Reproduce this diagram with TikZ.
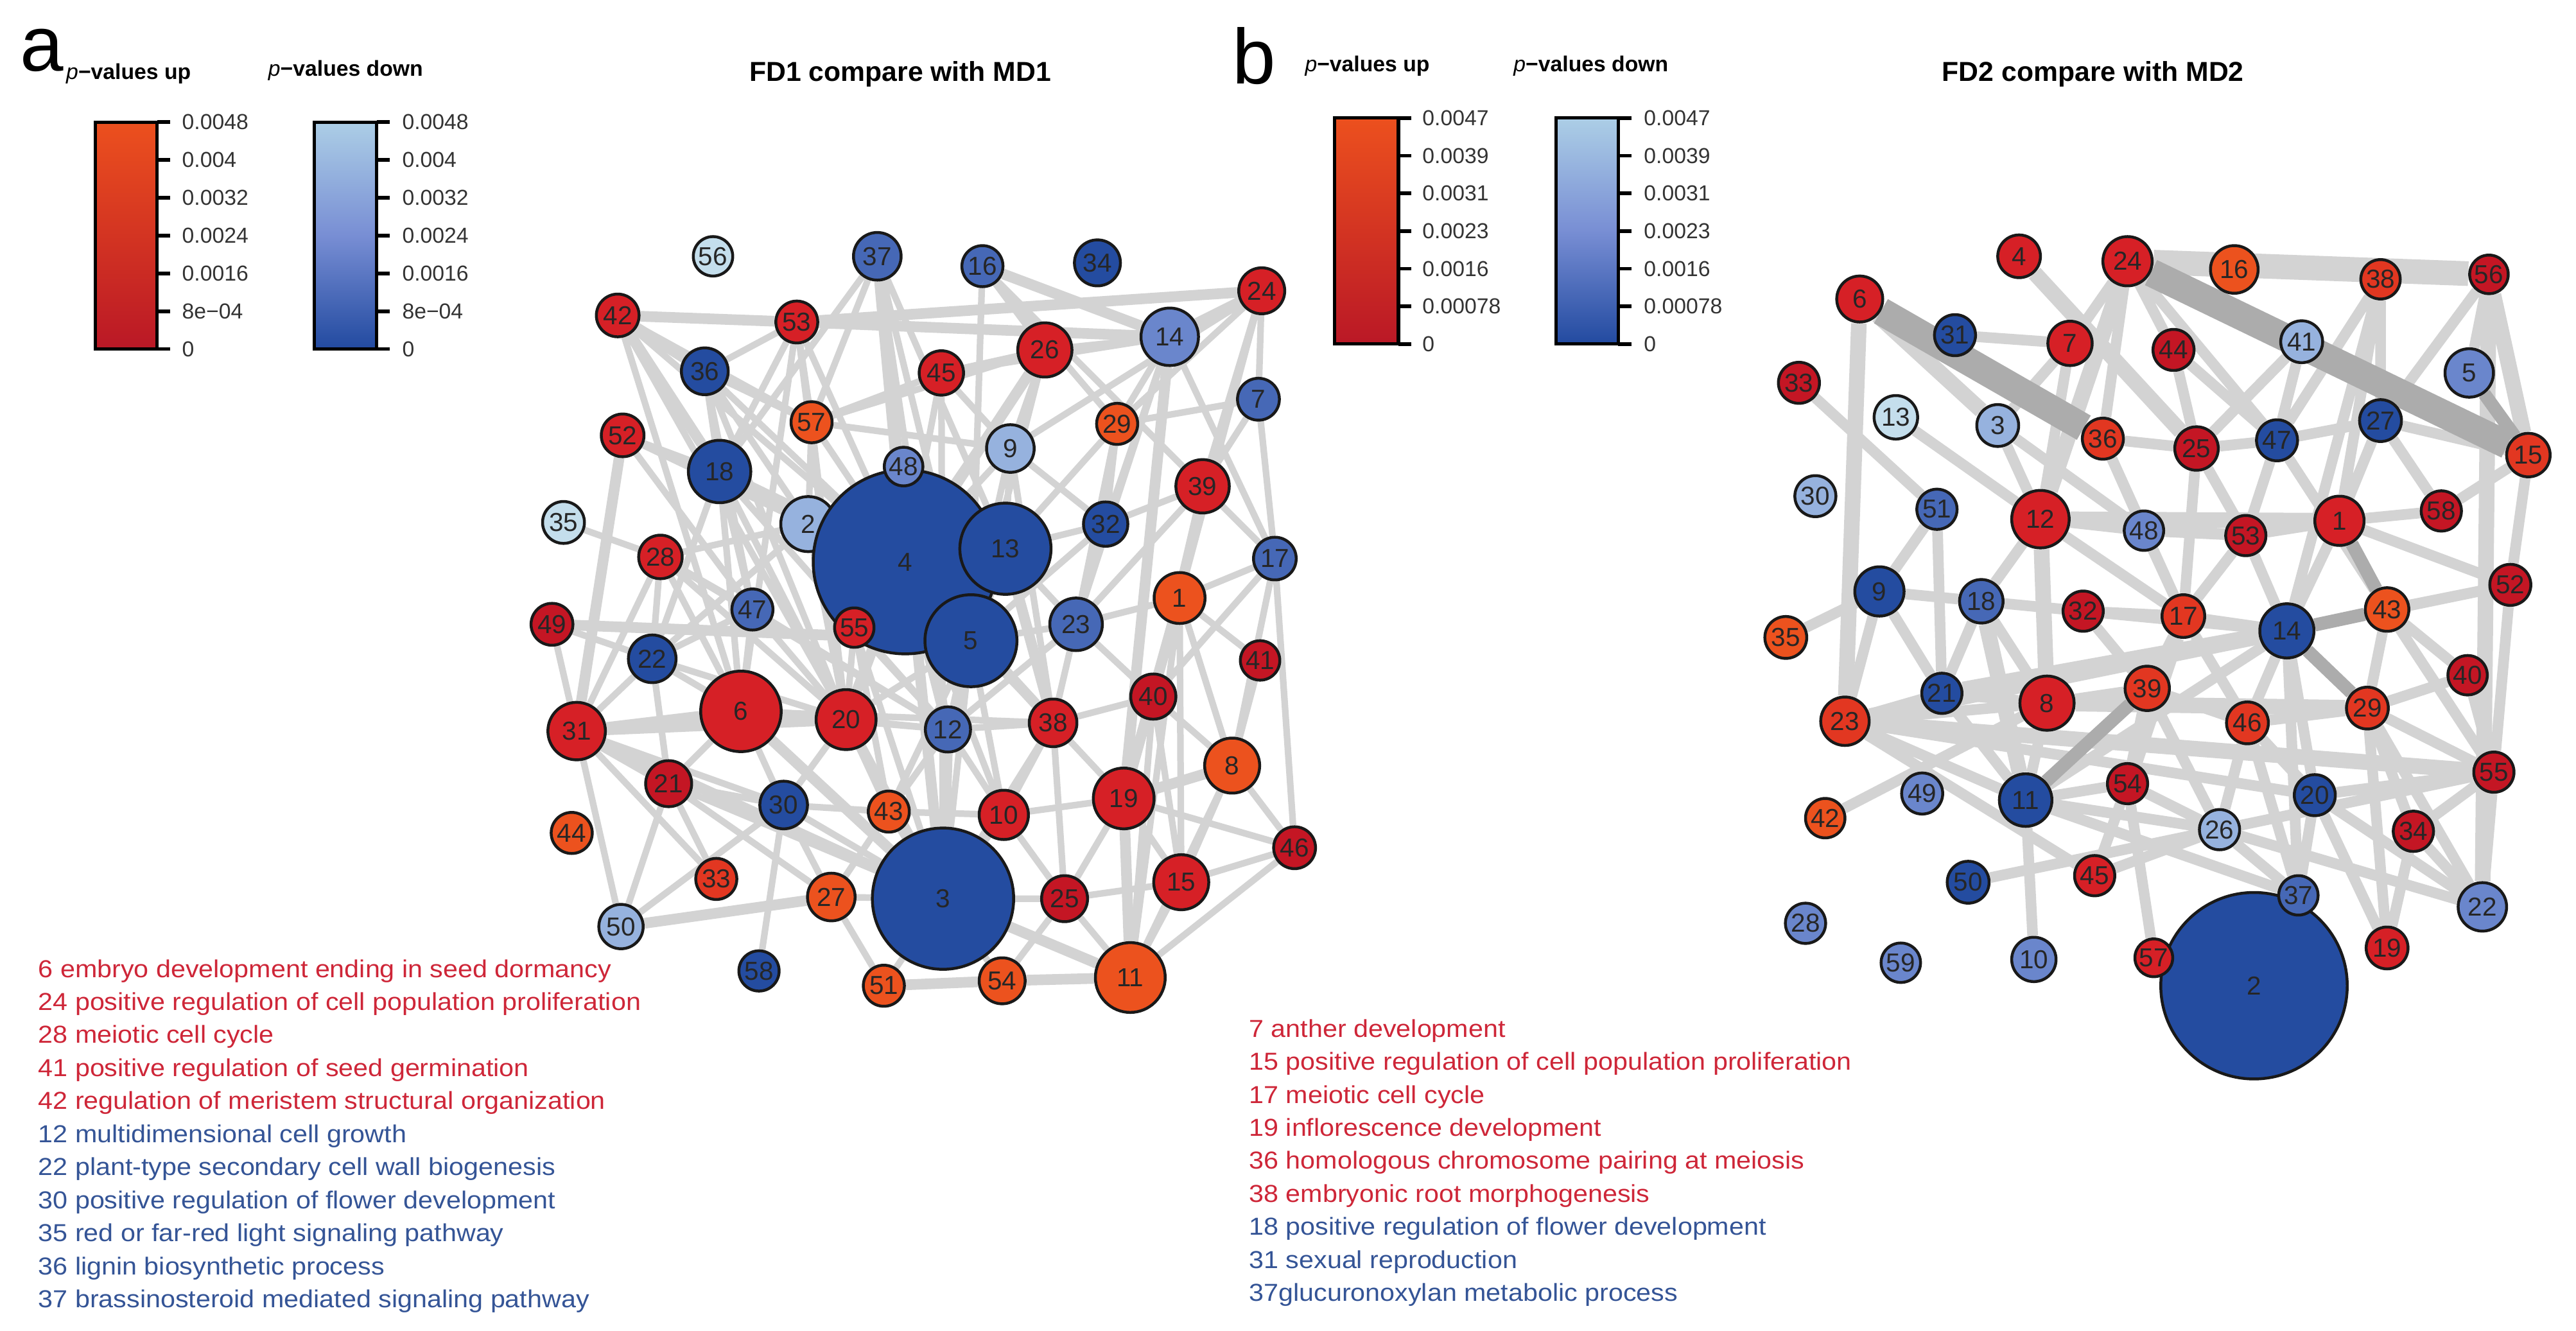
\documentclass[tikz,border=0pt]{standalone}
\usepackage{fontspec}
\setmainfont{Liberation Sans}
\newfontfamily\widesans[FakeStretch=1.08]{Liberation Sans}
\pgfdeclarelayer{edges}
\pgfsetlayers{edges,main}
\usepackage{xcolor}
\definecolor{rA}{RGB}{196,22,36}
\definecolor{rB}{RGB}{214,32,38}
\definecolor{rC}{RGB}{226,55,33}
\definecolor{rD}{RGB}{236,82,30}
\definecolor{bA}{RGB}{36,76,160}
\definecolor{bB}{RGB}{70,104,182}
\definecolor{bC}{RGB}{106,134,204}
\definecolor{bD}{RGB}{150,178,222}
\definecolor{bE}{RGB}{196,222,236}
\definecolor{linkgray}{RGB}{211,211,211}
\definecolor{bandgray}{RGB}{172,172,172}
\definecolor{txtred}{RGB}{206,38,56}
\definecolor{txtblue}{RGB}{52,84,150}
\tikzset{%
	term/.style={
		circle,
		draw=black!90,
		line width=0.35mm,
		inner sep=0pt,
		font=\fontsize{9}{9}\selectfont,
		text=black!85
	},
	link/.style={draw=linkgray, line width=0.8mm},
	linkw/.style={draw=linkgray, line width=1.3mm},
	linkx/.style={draw=linkgray, line width=1.9mm},
	linkband/.style={draw=linkgray, line width=3mm},
	darkband/.style={draw=bandgray, line width=3.4mm},
	darklink/.style={draw=bandgray, line width=1.6mm},
	bar/.style={draw=black, line width=0.4mm},
	tickmark/.style={line width=0.45mm},
	ticklabel/.style={anchor=west, inner sep=0pt, font=\fontsize{7.5}{9}\selectfont, text=black!80},
	keyline/.style={anchor=north west, inner sep=0pt, text height=2.9mm, text depth=0.98mm, font=\widesans\fontsize{8.5}{10}\selectfont},
	heading/.style={inner sep=0pt, font=\bfseries\fontsize{9.5}{11}\selectfont},
	pvlabel/.style={anchor=west, inner sep=0pt, font=\fontsize{7.5}{9}\selectfont},
	panel/.style={anchor=base west, inner sep=0pt, font=\fontsize{27}{27}\selectfont}
}
\begin{document}
\begin{tikzpicture}[x=0.2mm, y=-0.2mm]
	\useasboundingbox (0,0) rectangle (1568,810);
	
	% panel letters and titles
	\node[panel] (pa) at (12,43) {a};
	\node[panel] (pb) at (750,51) {b};
	\node[heading] (titlea) at (548,45) {FD1 compare with MD1};
	\node[heading] (titleb) at (1274,45) {FD2 compare with MD2};
	
	% colour keys
	\node[pvlabel] (upa) at (40,45) {\textit{p}\textbf{−values up}};
	\node[pvlabel] (downa) at (163,43) {\textit{p}\textbf{−values down}};
	\node[pvlabel] (upb) at (794,40) {\textit{p}\textbf{−values up}};
	\node[pvlabel] (downb) at (921,40) {\textit{p}\textbf{−values down}};
	
	\shade[top color={rgb,255:red,236;green,80;blue,30}, bottom color={rgb,255:red,186;green,24;blue,38}] (58,74.3) rectangle (95.7,212.4);
	\draw[bar] (58,74.3) rectangle (95.7,212.4);
	\shade[top color={rgb,255:red,172;green,206;blue,230}, bottom color={rgb,255:red,34;green,74;blue,160}, middle color={rgb,255:red,120;green,142;blue,212}] (191.4,74.3) rectangle (229.3,212.4);
	\draw[bar] (191.4,74.3) rectangle (229.3,212.4);
	\foreach \v [count=\k from 0] in {0.0048,0.004,0.0032,0.0024,0.0016,8e−04,0} {
		\draw[tickmark] (95.7,74.3+23.02*\k) -- ++(8,0);
		\node[ticklabel] (kra\k) at (110.5,74.3+23.02*\k) {\v};
		\draw[tickmark] (229.3,74.3+23.02*\k) -- ++(8,0);
		\node[ticklabel] (kba\k) at (244.5,74.3+23.02*\k) {\v};
	}
	
	\shade[top color={rgb,255:red,236;green,80;blue,30}, bottom color={rgb,255:red,186;green,24;blue,38}] (812.4,71.8) rectangle (851.2,209.4);
	\draw[bar] (812.4,71.8) rectangle (851.2,209.4);
	\shade[top color={rgb,255:red,172;green,206;blue,230}, bottom color={rgb,255:red,34;green,74;blue,160}, middle color={rgb,255:red,120;green,142;blue,212}] (947,71.8) rectangle (985,209.4);
	\draw[bar] (947,71.8) rectangle (985,209.4);
	\foreach \v [count=\k from 0] in {0.0047,0.0039,0.0031,0.0023,0.0016,0.00078,0} {
		\draw[tickmark] (851.2,71.8+22.93*\k) -- ++(8,0);
		\node[ticklabel] (krb\k) at (865.5,71.8+22.93*\k) {\v};
		\draw[tickmark] (985,71.8+22.93*\k) -- ++(8,0);
		\node[ticklabel] (kbb\k) at (1000.3,71.8+22.93*\k) {\v};
	}
	
	% panel a terms
	\node[term, fill=bE, minimum size=4.8mm] (a56) at (434,156) {56};
	\node[term, fill=bB, minimum size=5.8mm] (a37) at (534,156) {37};
	\node[term, fill=bB, minimum size=5.0mm] (a16) at (598,162) {16};
	\node[term, fill=bA, minimum size=5.6mm] (a34) at (668,160) {34};
	\node[term, fill=rB, minimum size=5.6mm] (a24) at (768,177) {24};
	\node[term, fill=rB, minimum size=5.2mm] (a42) at (376,192) {42};
	\node[term, fill=rB, minimum size=5.1mm] (a53) at (485,196) {53};
	\node[term, fill=bC, minimum size=7.0mm] (a14) at (712,205) {14};
	\node[term, fill=rB, minimum size=6.6mm] (a26) at (636,213) {26};
	\node[term, fill=rB, minimum size=5.4mm] (a45) at (573,227) {45};
	\node[term, fill=bA, minimum size=5.7mm] (a36) at (429,226) {36};
	\node[term, fill=bB, minimum size=5.1mm] (a7) at (766,243) {7};
	\node[term, fill=rD, minimum size=5.0mm] (a57) at (494,257) {57};
	\node[term, fill=rD, minimum size=5.0mm] (a29) at (680,258) {29};
	\node[term, fill=rB, minimum size=5.2mm] (a52) at (379,265) {52};
	\node[term, fill=bD, minimum size=5.8mm] (a9) at (615,273) {9};
	\node[term, fill=bA, minimum size=7.6mm] (a18) at (438,287) {18};
	\node[term, fill=rB, minimum size=6.5mm] (a39) at (732,296) {39};
	\node[term, fill=bE, minimum size=5.1mm] (a35) at (343,318) {35};
	\node[term, fill=bD, minimum size=6.7mm] (a2) at (492,319) {2};
	\node[term, fill=bA, minimum size=22.4mm] (a4) at (551,342) {4};
	\node[term, fill=bA, minimum size=11.2mm] (a5) at (591,390) {5};
	\node[term, fill=bA, minimum size=11.1mm] (a13) at (612,334) {13};
	\node[term, fill=bC, minimum size=4.7mm] (a48) at (550,284) {48};
	\node[term, fill=rB, minimum size=4.8mm] (a55) at (520,382) {55};
	\node[term, fill=bA, minimum size=5.4mm] (a32) at (673,319) {32};
	\node[term, fill=bB, minimum size=5.2mm] (a17) at (776,340) {17};
	\node[term, fill=rB, minimum size=5.3mm] (a28) at (402,339) {28};
	\node[term, fill=bB, minimum size=5.0mm] (a47) at (458,371) {47};
	\node[term, fill=rA, minimum size=5.1mm] (a49) at (336,380) {49};
	\node[term, fill=bB, minimum size=6.4mm] (a23) at (655,380) {23};
	\node[term, fill=rD, minimum size=6.2mm] (a1) at (718,364) {1};
	\node[term, fill=bA, minimum size=5.8mm] (a22) at (397,401) {22};
	\node[term, fill=rA, minimum size=4.8mm] (a41) at (767,402) {41};
	\node[term, fill=rB, minimum size=9.8mm] (a6) at (451,433) {6};
	\node[term, fill=rB, minimum size=7.3mm] (a20) at (515,438) {20};
	\node[term, fill=bB, minimum size=5.5mm] (a12) at (577,444) {12};
	\node[term, fill=rB, minimum size=5.8mm] (a38) at (641,440) {38};
	\node[term, fill=rA, minimum size=5.5mm] (a40) at (702,424) {40};
	\node[term, fill=rB, minimum size=7.0mm] (a31) at (351,445) {31};
	\node[term, fill=rD, minimum size=6.7mm] (a8) at (750,466) {8};
	\node[term, fill=rA, minimum size=5.6mm] (a21) at (407,477) {21};
	\node[term, fill=bA, minimum size=5.8mm] (a30) at (477,490) {30};
	\node[term, fill=rD, minimum size=5.0mm] (a43) at (541,494) {43};
	\node[term, fill=rB, minimum size=6.0mm] (a10) at (611,496) {10};
	\node[term, fill=rB, minimum size=7.4mm] (a19) at (684,486) {19};
	\node[term, fill=rD, minimum size=5.0mm] (a44) at (348,507) {44};
	\node[term, fill=rA, minimum size=5.1mm] (a46) at (788,516) {46};
	\node[term, fill=bA, minimum size=17.2mm] (a3) at (574,547) {3};
	\node[term, fill=rC, minimum size=5.0mm] (a33) at (436,535) {33};
	\node[term, fill=rD, minimum size=5.8mm] (a27) at (506,546) {27};
	\node[term, fill=rA, minimum size=5.6mm] (a25) at (648,547) {25};
	\node[term, fill=rB, minimum size=6.7mm] (a15) at (719,537) {15};
	\node[term, fill=bD, minimum size=5.4mm] (a50) at (378,564) {50};
	\node[term, fill=bA, minimum size=4.9mm] (a58) at (462,591) {58};
	\node[term, fill=rD, minimum size=5.0mm] (a51) at (538,600) {51};
	\node[term, fill=rD, minimum size=5.6mm] (a54) at (610,597) {54};
	\node[term, fill=rD, minimum size=8.5mm] (a11) at (688,595) {11};
	
	% panel b terms
	\node[term, fill=rB, minimum size=5.2mm] (b4) at (1229,156) {4};
	\node[term, fill=rB, minimum size=6.0mm] (b24) at (1295,159) {24};
	\node[term, fill=rD, minimum size=5.8mm] (b16) at (1360,164) {16};
	\node[term, fill=rC, minimum size=4.8mm] (b38) at (1449,170) {38};
	\node[term, fill=rA, minimum size=4.7mm] (b56) at (1515,167) {56};
	\node[term, fill=rB, minimum size=5.6mm] (b6) at (1132,182) {6};
	\node[term, fill=bA, minimum size=5.0mm] (b31) at (1190,204) {31};
	\node[term, fill=rB, minimum size=5.4mm] (b7) at (1260,209) {7};
	\node[term, fill=rA, minimum size=5.0mm] (b44) at (1323,213) {44};
	\node[term, fill=bD, minimum size=5.1mm] (b41) at (1401,208) {41};
	\node[term, fill=bC, minimum size=5.9mm] (b5) at (1503,227) {5};
	\node[term, fill=rA, minimum size=5.0mm] (b33) at (1095,233) {33};
	\node[term, fill=bE, minimum size=5.3mm] (b13) at (1154,254) {13};
	\node[term, fill=bD, minimum size=5.1mm] (b3) at (1216,259) {3};
	\node[term, fill=bA, minimum size=5.1mm] (b27) at (1449,256) {27};
	\node[term, fill=rC, minimum size=5.0mm] (b36) at (1280,267) {36};
	\node[term, fill=rA, minimum size=5.3mm] (b25) at (1337,273) {25};
	\node[term, fill=bA, minimum size=5.0mm] (b47) at (1386,268) {47};
	\node[term, fill=rC, minimum size=5.3mm] (b15) at (1539,277) {15};
	\node[term, fill=bD, minimum size=5.0mm] (b30) at (1105,302) {30};
	\node[term, fill=bB, minimum size=4.9mm] (b51) at (1179,310) {51};
	\node[term, fill=rB, minimum size=7.0mm] (b12) at (1242,316) {12};
	\node[term, fill=bC, minimum size=4.8mm] (b48) at (1305,323) {48};
	\node[term, fill=rA, minimum size=4.9mm] (b53) at (1367,326) {53};
	\node[term, fill=rB, minimum size=6.0mm] (b1) at (1424,317) {1};
	\node[term, fill=rA, minimum size=4.9mm] (b58) at (1486,311) {58};
	\node[term, fill=rA, minimum size=5.0mm] (b52) at (1528,356) {52};
	\node[term, fill=bA, minimum size=6.0mm] (b9) at (1144,360) {9};
	\node[term, fill=bB, minimum size=5.3mm] (b18) at (1206,366) {18};
	\node[term, fill=rA, minimum size=4.9mm] (b32) at (1268,372) {32};
	\node[term, fill=rC, minimum size=5.2mm] (b17) at (1329,375) {17};
	\node[term, fill=bA, minimum size=6.6mm] (b14) at (1392,384) {14};
	\node[term, fill=rD, minimum size=5.3mm] (b43) at (1453,371) {43};
	\node[term, fill=rD, minimum size=5.1mm] (b35) at (1087,388) {35};
	\node[term, fill=rA, minimum size=4.8mm] (b40) at (1502,411) {40};
	\node[term, fill=bA, minimum size=4.9mm] (b21) at (1182,422) {21};
	\node[term, fill=rB, minimum size=6.6mm] (b8) at (1246,428) {8};
	\node[term, fill=rC, minimum size=5.4mm] (b39) at (1307,419) {39};
	\node[term, fill=rC, minimum size=5.9mm] (b23) at (1123,439) {23};
	\node[term, fill=rC, minimum size=5.1mm] (b46) at (1368,440) {46};
	\node[term, fill=rC, minimum size=5.1mm] (b29) at (1441,431) {29};
	\node[term, fill=rA, minimum size=4.9mm] (b55) at (1518,470) {55};
	\node[term, fill=bC, minimum size=5.0mm] (b49) at (1170,483) {49};
	\node[term, fill=bA, minimum size=6.4mm] (b11) at (1233,487) {11};
	\node[term, fill=rA, minimum size=4.9mm] (b54) at (1295,477) {54};
	\node[term, fill=bA, minimum size=5.0mm] (b20) at (1409,484) {20};
	\node[term, fill=bD, minimum size=4.9mm] (b26) at (1351,505) {26};
	\node[term, fill=rA, minimum size=4.9mm] (b34) at (1469,506) {34};
	\node[term, fill=rD, minimum size=4.8mm] (b42) at (1111,498) {42};
	\node[term, fill=bA, minimum size=5.1mm] (b50) at (1198,537) {50};
	\node[term, fill=rB, minimum size=4.9mm] (b45) at (1275,533) {45};
	\node[term, fill=bA, minimum size=22.7mm] (b2) at (1372,600) {2};
	\node[term, fill=bB, minimum size=4.8mm] (b37) at (1399,545) {37};
	\node[term, fill=rB, minimum size=4.6mm] (b57) at (1311,583) {57};
	\node[term, fill=bC, minimum size=5.9mm] (b22) at (1511,552) {22};
	\node[term, fill=bC, minimum size=4.9mm] (b28) at (1099,562) {28};
	\node[term, fill=bC, minimum size=4.8mm] (b59) at (1157,586) {59};
	\node[term, fill=bC, minimum size=5.4mm] (b10) at (1238,584) {10};
	\node[term, fill=rB, minimum size=5.1mm] (b19) at (1453,577) {19};
	
	% term keys
	\node[keyline, text=txtred] (ka1) at (23,580) {6 embryo development ending in seed dormancy};
	\node[keyline, text=txtred] (ka2) at (ka1.south west) {24 positive regulation of cell population proliferation};
	\node[keyline, text=txtred] (ka3) at (ka2.south west) {28 meiotic cell cycle};
	\node[keyline, text=txtred] (ka4) at (ka3.south west) {41 positive regulation of seed germination};
	\node[keyline, text=txtred] (ka5) at (ka4.south west) {42 regulation of meristem structural organization};
	\node[keyline, text=txtblue] (ka6) at (ka5.south west) {12 multidimensional cell growth};
	\node[keyline, text=txtblue] (ka7) at (ka6.south west) {22 plant-type secondary cell wall biogenesis};
	\node[keyline, text=txtblue] (ka8) at (ka7.south west) {30 positive regulation of flower development};
	\node[keyline, text=txtblue] (ka9) at (ka8.south west) {35 red or far-red light signaling pathway};
	\node[keyline, text=txtblue] (ka10) at (ka9.south west) {36 lignin biosynthetic process};
	\node[keyline, text=txtblue] (ka11) at (ka10.south west) {37 brassinosteroid mediated signaling pathway};
	
	\node[keyline, text=txtred] (kb1) at (760,616.4) {7 anther development};
	\node[keyline, text=txtred] (kb2) at (kb1.south west) {15 positive regulation of cell population proliferation};
	\node[keyline, text=txtred] (kb3) at (kb2.south west) {17 meiotic cell cycle};
	\node[keyline, text=txtred] (kb4) at (kb3.south west) {19 inflorescence development};
	\node[keyline, text=txtred] (kb5) at (kb4.south west) {36 homologous chromosome pairing at meiosis};
	\node[keyline, text=txtred] (kb6) at (kb5.south west) {38 embryonic root morphogenesis};
	\node[keyline, text=txtblue] (kb7) at (kb6.south west) {18 positive regulation of flower development};
	\node[keyline, text=txtblue] (kb8) at (kb7.south west) {31 sexual reproduction};
	\node[keyline, text=txtblue] (kb9) at (kb8.south west) {37glucuronoxylan metabolic process};
	
	\begin{pgfonlayer}{edges}
		% panel a links
		\draw[linkw] (a42) -- (a53) (a53) -- (a24) (a53) -- (a14) (a16) -- (a14)
			(a37) -- (a4) (a6) -- (a31) (a50) -- (a27) (a19) -- (a11) (a51) -- (a54)
			(a54) -- (a11) (a42) -- (a36) (a31) -- (a3) (a14) -- (a19) (a42) -- (a18)
			(a37) -- (a3) (a31) -- (a20) (a24) -- (a14) (a26) -- (a4) (a18) -- (a4)
			(a52) -- (a31) (a49) -- (a5) (a31) -- (a21) (a3) -- (a11) (a8) -- (a19)
			(a1) -- (a19) (a6) -- (a3) (a20) -- (a3) (a6) -- (a20) (a12) -- (a3)
			(a4) -- (a20) (a4) -- (a12) (a4) -- (a38) (a13) -- (a38);
		\draw[link] (a42) -- (a57) (a42) -- (a4) (a42) -- (a6) (a42) -- (a20)
			(a53) -- (a36) (a53) -- (a57) (a53) -- (a4) (a53) -- (a18) (a53) -- (a20) (a53) -- (a6)
			(a37) -- (a57) (a37) -- (a18) (a37) -- (a13) (a37) -- (a12) (a37) -- (a5)
			(a16) -- (a26) (a16) -- (a29) (a16) -- (a5) (a16) -- (a39)
			(a24) -- (a29) (a24) -- (a39) (a24) -- (a1) (a24) -- (a9) (a24) -- (a7)
			(a14) -- (a26) (a14) -- (a45) (a14) -- (a29) (a14) -- (a32) (a14) -- (a17) (a14) -- (a23)
			(a26) -- (a45) (a26) -- (a9) (a26) -- (a12) (a26) -- (a57) (a26) -- (a55) (a26) -- (a5)
			(a45) -- (a4) (a45) -- (a9) (a45) -- (a57) (a45) -- (a3)
			(a36) -- (a18) (a36) -- (a57) (a36) -- (a4) (a36) -- (a2) (a36) -- (a47) (a36) -- (a20)
			(a7) -- (a17) (a7) -- (a39) (a7) -- (a29)
			(a57) -- (a4) (a57) -- (a9) (a57) -- (a2) (a57) -- (a20)
			(a29) -- (a23) (a29) -- (a32) (a29) -- (a13)
			(a52) -- (a18) (a52) -- (a2) (a52) -- (a47)
			(a9) -- (a4) (a9) -- (a13) (a9) -- (a32) (a9) -- (a12) (a9) -- (a38)
			(a18) -- (a2) (a18) -- (a47) (a18) -- (a22) (a18) -- (a6) (a18) -- (a20) (a18) -- (a12)
			(a39) -- (a32) (a39) -- (a1) (a39) -- (a40) (a39) -- (a23) (a39) -- (a17)
			(a35) -- (a28) (a2) -- (a28) (a2) -- (a22) (a2) -- (a20)
			(a32) -- (a13) (a32) -- (a23) (a32) -- (a5)
			(a17) -- (a1) (a17) -- (a46) (a17) -- (a8) (a17) -- (a40)
			(a28) -- (a22) (a28) -- (a31) (a28) -- (a6) (a28) -- (a20) (a28) -- (a47) (a28) -- (a12)
			(a47) -- (a22) (a47) -- (a6) (a47) -- (a20) (a47) -- (a12)
			(a49) -- (a31) (a49) -- (a22) (a55) -- (a20) (a55) -- (a12) (a55) -- (a43) (a55) -- (a3)
			(a5) -- (a12) (a5) -- (a20) (a5) -- (a38) (a5) -- (a10) (a5) -- (a3) (a5) -- (a23) (a5) -- (a43)
			(a13) -- (a23) (a13) -- (a12) (a4) -- (a10)
			(a23) -- (a1) (a23) -- (a38) (a23) -- (a40) (a23) -- (a12)
			(a1) -- (a40) (a1) -- (a41) (a1) -- (a8) (a1) -- (a11) (a1) -- (a15)
			(a22) -- (a31) (a22) -- (a6) (a22) -- (a21) (a22) -- (a20) (a41) -- (a8)
			(a6) -- (a21) (a6) -- (a30) (a6) -- (a12) (a6) -- (a38)
			(a20) -- (a12) (a20) -- (a30) (a20) -- (a43)
			(a12) -- (a38) (a12) -- (a10) (a12) -- (a43)
			(a38) -- (a10) (a38) -- (a19) (a38) -- (a3) (a38) -- (a40) (a38) -- (a25)
			(a40) -- (a19) (a40) -- (a8) (a40) -- (a15) (a40) -- (a11)
			(a31) -- (a30) (a31) -- (a50) (a31) -- (a33)
			(a8) -- (a46) (a8) -- (a15) (a8) -- (a11)
			(a21) -- (a30) (a21) -- (a50) (a21) -- (a33) (a21) -- (a3) (a21) -- (a27)
			(a30) -- (a58) (a30) -- (a27) (a30) -- (a43) (a30) -- (a3) (a30) -- (a50)
			(a43) -- (a3) (a43) -- (a10) (a43) -- (a27)
			(a10) -- (a3) (a10) -- (a25) (a10) -- (a19)
			(a19) -- (a15) (a19) -- (a25)
			(a46) -- (a11) (a46) -- (a15) (a46) -- (a19)
			(a3) -- (a27) (a3) -- (a51) (a3) -- (a54) (a3) -- (a25)
			(a27) -- (a51) (a25) -- (a11) (a25) -- (a54) (a25) -- (a15) (a15) -- (a11);
		
		% panel b links
		\draw[linkband] (b24) -- (b56);
		\draw[linkx] (b6) -- (b23) (b6) -- (b3) (b4) -- (b25) (b24) -- (b12) (b56) -- (b15)
			(b12) -- (b1) (b23) -- (b55) (b23) -- (b14) (b12) -- (b8) (b21) -- (b14)
			(b18) -- (b11) (b8) -- (b29) (b17) -- (b54) (b56) -- (b22);
		\draw[linkw] (b31) -- (b7) (b24) -- (b7) (b24) -- (b36) (b24) -- (b44) (b24) -- (b47)
			(b7) -- (b12) (b7) -- (b3) (b44) -- (b47) (b44) -- (b25) (b41) -- (b47) (b41) -- (b25)
			(b38) -- (b27) (b38) -- (b47) (b38) -- (b1) (b38) -- (b14) (b56) -- (b27) (b56) -- (b5)
			(b33) -- (b51) (b13) -- (b12) (b51) -- (b9) (b51) -- (b21)
			(b12) -- (b48) (b12) -- (b53) (b12) -- (b17) (b12) -- (b18)
			(b1) -- (b58) (b1) -- (b53) (b1) -- (b52) (b1) -- (b14) (b1) -- (b27)
			(b58) -- (b15) (b52) -- (b14) (b52) -- (b43) (b52) -- (b15) (b52) -- (b55)
			(b9) -- (b23) (b9) -- (b18) (b9) -- (b35) (b9) -- (b21)
			(b18) -- (b32) (b18) -- (b21) (b18) -- (b8)
			(b32) -- (b17) (b32) -- (b39) (b32) -- (b14)
			(b17) -- (b14) (b17) -- (b39) (b17) -- (b46)
			(b14) -- (b46) (b14) -- (b20) (b14) -- (b11)
			(b43) -- (b29) (b43) -- (b55) (b43) -- (b40) (b40) -- (b55) (b40) -- (b29)
			(b21) -- (b8) (b21) -- (b23) (b21) -- (b11)
			(b8) -- (b39) (b8) -- (b11) (b8) -- (b23)
			(b39) -- (b46) (b39) -- (b54) (b39) -- (b26)
			(b23) -- (b11) (b23) -- (b20) (b23) -- (b45)
			(b46) -- (b26) (b46) -- (b20) (b46) -- (b29)
			(b29) -- (b34) (b29) -- (b55) (b29) -- (b19)
			(b55) -- (b22) (b55) -- (b34) (b55) -- (b26) (b55) -- (b20)
			(b42) -- (b8) (b11) -- (b54) (b11) -- (b26) (b11) -- (b10) (b11) -- (b37)
			(b54) -- (b57) (b54) -- (b26) (b54) -- (b45)
			(b20) -- (b37) (b20) -- (b19) (b20) -- (b22)
			(b26) -- (b37) (b26) -- (b50) (b26) -- (b45) (b26) -- (b22)
			(b34) -- (b22) (b34) -- (b19) (b37) -- (b14) (b37) -- (b46) (b22) -- (b29)
			(b3) -- (b12) (b3) -- (b48) (b36) -- (b25) (b36) -- (b17) (b36) -- (b48)
			(b25) -- (b53) (b25) -- (b47) (b25) -- (b17)
			(b47) -- (b53) (b47) -- (b27) (b47) -- (b43)
			(b27) -- (b15) (b27) -- (b58) (b48) -- (b53) (b48) -- (b17)
			(b53) -- (b17) (b53) -- (b14);
		\draw[darkband] (b6) -- (b36) (b24) -- (b15);
		\draw[darklink] (b5) -- (b15) (b1) -- (b43) (b14) -- (b43) (b14) -- (b29) (b11) -- (b39);
	\end{pgfonlayer}
\end{tikzpicture}
\end{document}
